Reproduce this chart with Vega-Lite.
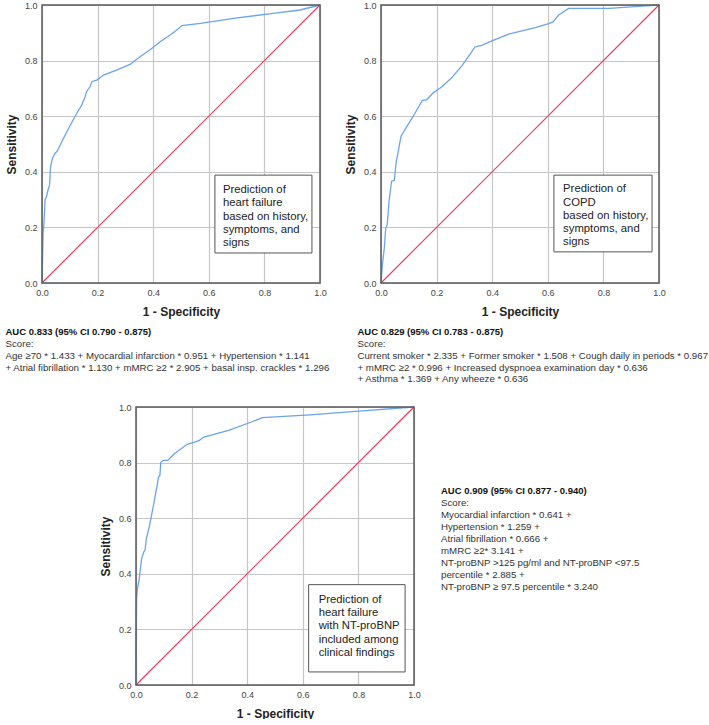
{
  "$schema": "https://vega.github.io/schema/vega-lite/v6.json",
  "padding": {"left": 5, "top": 1, "right": 0, "bottom": 0},
  "background": "white",
  "config": {
    "font": "Liberation Sans",
    "view": {"stroke": null},
    "axis": {
      "grid": true, "gridColor": "#c6c6c6", "gridWidth": 1.2,
      "domain": false, "ticks": false,
      "labelFontSize": 9, "labelColor": "#444", "labelPadding": 5, "labelFlush": false,
      "titleFontSize": 12, "titleFontWeight": "bold", "titleColor": "#222"
    },
    "axisX": {"titlePadding": 9},
    "axisY": {"titlePadding": 6},
    "title": {
      "orient": "bottom", "anchor": "start", "frame": "bounds", "align": "left",
      "fontSize": 9.5, "fontWeight": "bold", "color": "#111", "offset": 10,
      "subtitleFontSize": 9.7, "subtitleColor": "#333", "subtitlePadding": 2.5, "subtitleLineHeight": 11.8
    }
  },
  "datasets": {
    "hf": [
      {"fpr": 0, "tpr": 0}, {"fpr": 0.002, "tpr": 0.09}, {"fpr": 0.004, "tpr": 0.18}, {"fpr": 0.006, "tpr": 0.2},
      {"fpr": 0.009, "tpr": 0.25}, {"fpr": 0.011, "tpr": 0.3}, {"fpr": 0.016, "tpr": 0.31}, {"fpr": 0.023, "tpr": 0.34},
      {"fpr": 0.027, "tpr": 0.35}, {"fpr": 0.031, "tpr": 0.42}, {"fpr": 0.038, "tpr": 0.45}, {"fpr": 0.046, "tpr": 0.465},
      {"fpr": 0.055, "tpr": 0.475}, {"fpr": 0.077, "tpr": 0.52}, {"fpr": 0.095, "tpr": 0.555}, {"fpr": 0.119, "tpr": 0.6},
      {"fpr": 0.143, "tpr": 0.64}, {"fpr": 0.155, "tpr": 0.67}, {"fpr": 0.161, "tpr": 0.69}, {"fpr": 0.172, "tpr": 0.705},
      {"fpr": 0.18, "tpr": 0.725}, {"fpr": 0.197, "tpr": 0.73}, {"fpr": 0.221, "tpr": 0.748}, {"fpr": 0.27, "tpr": 0.767},
      {"fpr": 0.318, "tpr": 0.787}, {"fpr": 0.335, "tpr": 0.8}, {"fpr": 0.355, "tpr": 0.816}, {"fpr": 0.39, "tpr": 0.84},
      {"fpr": 0.425, "tpr": 0.868}, {"fpr": 0.461, "tpr": 0.892}, {"fpr": 0.485, "tpr": 0.91}, {"fpr": 0.503, "tpr": 0.926},
      {"fpr": 0.57, "tpr": 0.934}, {"fpr": 0.689, "tpr": 0.952}, {"fpr": 0.832, "tpr": 0.97}, {"fpr": 0.928, "tpr": 0.982},
      {"fpr": 1, "tpr": 1}
    ],
    "copd": [
      {"fpr": 0, "tpr": 0}, {"fpr": 0.005, "tpr": 0.066}, {"fpr": 0.012, "tpr": 0.126}, {"fpr": 0.017, "tpr": 0.198},
      {"fpr": 0.022, "tpr": 0.208}, {"fpr": 0.029, "tpr": 0.294}, {"fpr": 0.038, "tpr": 0.366}, {"fpr": 0.048, "tpr": 0.369},
      {"fpr": 0.055, "tpr": 0.438}, {"fpr": 0.06, "tpr": 0.462}, {"fpr": 0.072, "tpr": 0.528}, {"fpr": 0.086, "tpr": 0.552},
      {"fpr": 0.116, "tpr": 0.6}, {"fpr": 0.14, "tpr": 0.642}, {"fpr": 0.149, "tpr": 0.657}, {"fpr": 0.164, "tpr": 0.659},
      {"fpr": 0.188, "tpr": 0.684}, {"fpr": 0.218, "tpr": 0.705}, {"fpr": 0.254, "tpr": 0.738}, {"fpr": 0.29, "tpr": 0.78},
      {"fpr": 0.32, "tpr": 0.822}, {"fpr": 0.338, "tpr": 0.849}, {"fpr": 0.35, "tpr": 0.852}, {"fpr": 0.362, "tpr": 0.855},
      {"fpr": 0.399, "tpr": 0.871}, {"fpr": 0.459, "tpr": 0.895}, {"fpr": 0.555, "tpr": 0.919}, {"fpr": 0.603, "tpr": 0.933},
      {"fpr": 0.62, "tpr": 0.94}, {"fpr": 0.627, "tpr": 0.949}, {"fpr": 0.639, "tpr": 0.964}, {"fpr": 0.675, "tpr": 0.988},
      {"fpr": 0.82, "tpr": 0.988}, {"fpr": 0.94, "tpr": 0.996}, {"fpr": 1, "tpr": 1}
    ],
    "nt": [
      {"fpr": 0, "tpr": 0}, {"fpr": 0.001, "tpr": 0.2}, {"fpr": 0.002, "tpr": 0.31}, {"fpr": 0.005, "tpr": 0.345},
      {"fpr": 0.011, "tpr": 0.376}, {"fpr": 0.02, "tpr": 0.454}, {"fpr": 0.028, "tpr": 0.478}, {"fpr": 0.033, "tpr": 0.487},
      {"fpr": 0.037, "tpr": 0.526}, {"fpr": 0.049, "tpr": 0.574}, {"fpr": 0.065, "tpr": 0.658}, {"fpr": 0.076, "tpr": 0.718},
      {"fpr": 0.081, "tpr": 0.748}, {"fpr": 0.086, "tpr": 0.754}, {"fpr": 0.089, "tpr": 0.8}, {"fpr": 0.098, "tpr": 0.808},
      {"fpr": 0.114, "tpr": 0.808}, {"fpr": 0.138, "tpr": 0.832}, {"fpr": 0.184, "tpr": 0.866}, {"fpr": 0.211, "tpr": 0.874},
      {"fpr": 0.228, "tpr": 0.88}, {"fpr": 0.244, "tpr": 0.892}, {"fpr": 0.333, "tpr": 0.916}, {"fpr": 0.415, "tpr": 0.946},
      {"fpr": 0.455, "tpr": 0.962}, {"fpr": 0.626, "tpr": 0.972}, {"fpr": 0.789, "tpr": 0.984}, {"fpr": 1, "tpr": 1}
    ],
    "diag": [{"fpr": 0, "tpr": 0}, {"fpr": 1, "tpr": 1}],
    "ntNotes": [
      {"n": 0, "t": "AUC 0.909 (95% CI 0.877 - 0.940)", "head": true},
      {"n": 1, "t": "Score:", "head": false},
      {"n": 2, "t": "Myocardial infarction * 0.641 +", "head": false},
      {"n": 3, "t": "Hypertension * 1.259 +", "head": false},
      {"n": 4, "t": "Atrial fibrillation * 0.666 +", "head": false},
      {"n": 5, "t": "mMRC ≥2*  3.141 +", "head": false},
      {"n": 6, "t": "NT-proBNP >125 pg/ml and NT-proBNP <97.5", "head": false},
      {"n": 7, "t": "percentile * 2.885 +", "head": false},
      {"n": 8, "t": "NT-proBNP  ≥ 97.5 percentile * 3.240", "head": false}
    ]
  },
  "vconcat": [
    {
      "hconcat": [
        {
          "width": 278, "height": 278,
          "title": {
            "text": "AUC 0.833 (95% CI 0.790 - 0.875)",
            "subtitle": ["Score:", "Age ≥70 * 1.433 + Myocardial infarction * 0.951 + Hypertension * 1.141", "+ Atrial fibrillation * 1.130 + mMRC ≥2 * 2.905  + basal insp. crackles * 1.296"]
          },
          "layer": [
            {"data": {"name": "diag"}, "mark": {"type": "line", "color": "#e5405e", "strokeWidth": 1.2},
             "encoding": {
               "x": {"field": "fpr", "type": "quantitative", "scale": {"domain": [0, 1], "nice": false}, "axis": {"values": [0, 0.2, 0.4, 0.6, 0.8, 1], "format": ".1f", "title": "1 - Specificity"}},
               "y": {"field": "tpr", "type": "quantitative", "scale": {"domain": [0, 1], "nice": false}, "axis": {"values": [0, 0.2, 0.4, 0.6, 0.8, 1], "format": ".1f", "title": "Sensitivity"}}
             }},
            {"data": {"name": "hf"}, "mark": {"type": "line", "color": "#6aa4ee", "strokeWidth": 1.3},
             "encoding": {"x": {"field": "fpr", "type": "quantitative"}, "y": {"field": "tpr", "type": "quantitative"}}},
            {"data": {"values": [{}]}, "mark": {"type": "rect", "fill": "white", "stroke": "#555", "strokeWidth": 1},
             "encoding": {"x": {"datum": 0.622}, "x2": {"datum": 0.971}, "y": {"datum": 0.388}, "y2": {"datum": 0.108}}},
            {"data": {"values": [{}]}, "mark": {"type": "text", "align": "left", "baseline": "top", "fontSize": 11.3, "lineHeight": 13.2, "color": "#222"},
             "encoding": {"x": {"datum": 0.651}, "y": {"datum": 0.355}, "text": {"value": ["Prediction of", "heart failure", "based on history,", "symptoms, and", "signs"]}}},
            {"data": {"values": [{}]}, "mark": {"type": "rect", "fill": null, "stroke": "#5a5a5a", "strokeWidth": 1.5},
             "encoding": {"x": {"datum": 0}, "x2": {"datum": 1}, "y": {"datum": 0}, "y2": {"datum": 1}}}
          ]
        },
        {
          "width": 278, "height": 278,
          "title": {
            "text": "AUC 0.829 (95% CI 0.783 - 0.875)", "dx": 13,
            "subtitle": ["Score:", "Current smoker * 2.335 + Former smoker * 1.508 + Cough daily in periods * 0.967", "+ mMRC ≥2 * 0.996 + Increased dyspnoea examination day * 0.636", "+ Asthma * 1.369 + Any wheeze * 0.636"]
          },
          "layer": [
            {"data": {"name": "diag"}, "mark": {"type": "line", "color": "#e5405e", "strokeWidth": 1.2},
             "encoding": {
               "x": {"field": "fpr", "type": "quantitative", "scale": {"domain": [0, 1], "nice": false}, "axis": {"values": [0, 0.2, 0.4, 0.6, 0.8, 1], "format": ".1f", "title": "1 - Specificity"}},
               "y": {"field": "tpr", "type": "quantitative", "scale": {"domain": [0, 1], "nice": false}, "axis": {"values": [0, 0.2, 0.4, 0.6, 0.8, 1], "format": ".1f", "title": "Sensitivity"}}
             }},
            {"data": {"name": "copd"}, "mark": {"type": "line", "color": "#6aa4ee", "strokeWidth": 1.3},
             "encoding": {"x": {"field": "fpr", "type": "quantitative"}, "y": {"field": "tpr", "type": "quantitative"}}},
            {"data": {"values": [{}]}, "mark": {"type": "rect", "fill": "white", "stroke": "#555", "strokeWidth": 1},
             "encoding": {"x": {"datum": 0.622}, "x2": {"datum": 0.975}, "y": {"datum": 0.388}, "y2": {"datum": 0.112}}},
            {"data": {"values": [{}]}, "mark": {"type": "text", "align": "left", "baseline": "top", "fontSize": 11.3, "lineHeight": 13.2, "color": "#222"},
             "encoding": {"x": {"datum": 0.655}, "y": {"datum": 0.358}, "text": {"value": ["Prediction of", "COPD", "based on history,", "symptoms, and", "signs"]}}},
            {"data": {"values": [{}]}, "mark": {"type": "rect", "fill": null, "stroke": "#5a5a5a", "strokeWidth": 1.5},
             "encoding": {"x": {"datum": 0}, "x2": {"datum": 1}, "y": {"datum": 0}, "y2": {"datum": 1}}}
          ]
        }
      ],
      "spacing": 11
    },
    {
      "hconcat": [
        {
          "width": 37, "height": 10,
          "data": {"values": [{}]},
          "mark": {"type": "text"},
          "encoding": {"text": {"value": ""}}
        },
        {
          "width": 278, "height": 278,
          "layer": [
            {"data": {"name": "diag"}, "mark": {"type": "line", "color": "#e5405e", "strokeWidth": 1.2},
             "encoding": {
               "x": {"field": "fpr", "type": "quantitative", "scale": {"domain": [0, 1], "nice": false}, "axis": {"values": [0, 0.2, 0.4, 0.6, 0.8, 1], "format": ".1f", "title": "1 - Specificity"}},
               "y": {"field": "tpr", "type": "quantitative", "scale": {"domain": [0, 1], "nice": false}, "axis": {"values": [0, 0.2, 0.4, 0.6, 0.8, 1], "format": ".1f", "title": "Sensitivity"}}
             }},
            {"data": {"name": "nt"}, "mark": {"type": "line", "color": "#6aa4ee", "strokeWidth": 1.3},
             "encoding": {"x": {"field": "fpr", "type": "quantitative"}, "y": {"field": "tpr", "type": "quantitative"}}},
            {"data": {"values": [{}]}, "mark": {"type": "rect", "fill": "white", "stroke": "#555", "strokeWidth": 1},
             "encoding": {"x": {"datum": 0.621}, "x2": {"datum": 0.968}, "y": {"datum": 0.361}, "y2": {"datum": 0.047}}},
            {"data": {"values": [{}]}, "mark": {"type": "text", "align": "left", "baseline": "top", "fontSize": 11.3, "lineHeight": 13.3, "color": "#222"},
             "encoding": {"x": {"datum": 0.657}, "y": {"datum": 0.328}, "text": {"value": ["Prediction of", "heart failure", "with NT-proBNP", "included among", "clinical findings"]}}},
            {"data": {"values": [{}]}, "mark": {"type": "rect", "fill": null, "stroke": "#5a5a5a", "strokeWidth": 1.5},
             "encoding": {"x": {"datum": 0}, "x2": {"datum": 1}, "y": {"datum": 0}, "y2": {"datum": 1}}}
          ]
        },
        {
          "width": 150, "height": 278,
          "data": {"name": "ntNotes"},
          "encoding": {
            "x": {"datum": 0, "type": "quantitative", "scale": {"domain": [0, 1]}, "axis": null},
            "y": {"field": "n", "type": "quantitative", "scale": {"domain": [-7, 16.17], "reverse": true}, "axis": null},
            "text": {"field": "t", "type": "nominal"}
          },
          "layer": [
            {"transform": [{"filter": "datum.head"}], "mark": {"type": "text", "align": "left", "baseline": "middle", "fontSize": 9.5, "fontWeight": "bold", "color": "#111"}},
            {"transform": [{"filter": "!datum.head"}], "mark": {"type": "text", "align": "left", "baseline": "middle", "fontSize": 9.7, "color": "#333"}}
          ]
        }
      ],
      "spacing": 20
    }
  ],
  "spacing": 18
}
